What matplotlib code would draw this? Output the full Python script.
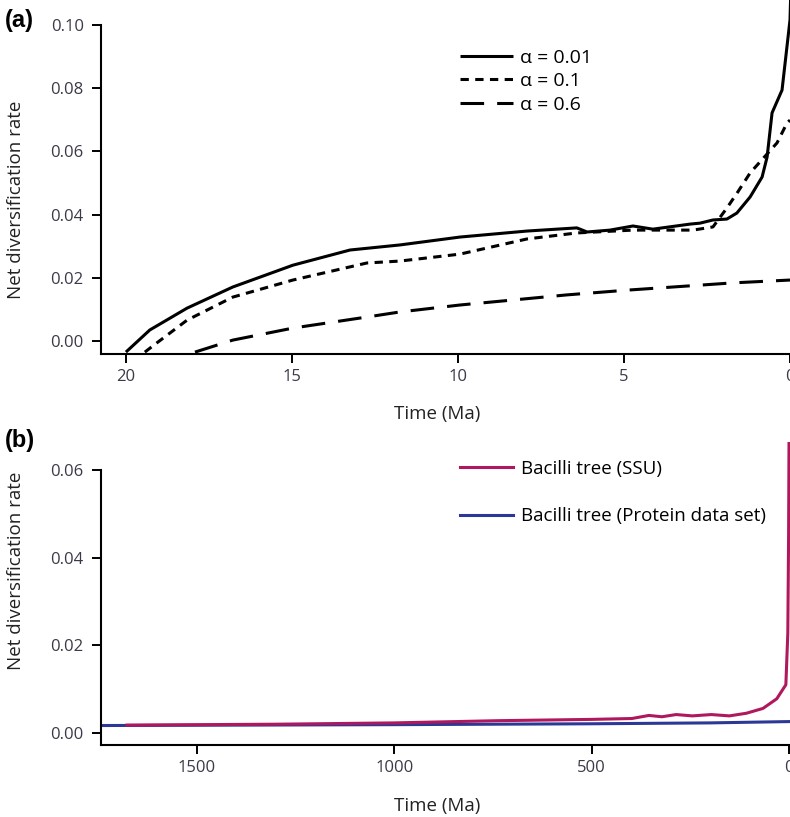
import matplotlib
matplotlib.use("Agg")
import matplotlib.pyplot as plt

plt.rcParams['font.family'] = ['Open Sans', 'DejaVu Sans']
plt.rcParams['lines.scale_dashes'] = False

# ---------------- Panel (a) data ----------------
t_a001 = [20.0, 19.28, 18.16, 16.78, 14.97, 13.25, 11.75, 9.94, 7.92, 6.42, 6.11, 5.42,
          4.73, 4.13, 3.01, 2.71, 2.32, 1.90, 1.60, 1.20, 0.84, 0.69, 0.54, 0.24, 0.0, -0.02]
v_a001 = [-0.0035, 0.0035, 0.0104, 0.0171, 0.0240, 0.0288, 0.0304, 0.0329, 0.0348, 0.0358,
          0.0345, 0.0351, 0.0364, 0.0354, 0.0370, 0.0373, 0.0383, 0.0386, 0.0405, 0.0456,
          0.0519, 0.0582, 0.0722, 0.0794, 0.1016, 0.109]

t_a01 = [19.43, 19.07, 18.16, 16.78, 14.97, 12.74, 11.75, 9.94, 7.92, 6.42, 4.73, 2.92,
         2.32, 1.90, 1.57, 1.20, 0.39, 0.09, 0.0]
v_a01 = [-0.0035, -0.0006, 0.0066, 0.0139, 0.0193, 0.0247, 0.0253, 0.0275, 0.0323, 0.0342,
         0.0351, 0.0351, 0.0361, 0.0421, 0.0472, 0.0532, 0.0627, 0.0690, 0.0699]

t_a06 = [17.92, 16.78, 14.97, 12.74, 11.75, 9.94, 6.72, 4.91, 1.72, 0.0]
v_a06 = [-0.0035, 0.0003, 0.0041, 0.0076, 0.0092, 0.0114, 0.0146, 0.0161, 0.0184, 0.0193]

labels_a = ['α = 0.01', 'α = 0.1', 'α = 0.6']
xticks_a = [20, 15, 10, 5, 0]
yticks_a = [0.00, 0.02, 0.04, 0.06, 0.08, 0.10]

# ---------------- Panel (b) data ----------------
t_ssu = [1677, 1300, 1000, 740, 500, 398, 355, 322, 286, 245, 197, 151, 108, 66, 31, 8, 3, 1, 0]
v_ssu = [0.0018, 0.0020, 0.0023, 0.0028, 0.0031, 0.0033, 0.0040, 0.0037, 0.0042, 0.0039,
         0.0042, 0.0039, 0.0045, 0.0056, 0.0078, 0.0110, 0.0228, 0.0456, 0.066]

t_prot = [1743, 1000, 500, 200, 0]
v_prot = [0.0017, 0.0019, 0.0021, 0.0023, 0.0026]

labels_b = ['Bacilli tree (SSU)', 'Bacilli tree (Protein data set)']
xticks_b = [1500, 1000, 500, 0]
yticks_b = [0.00, 0.02, 0.04, 0.06]

W, H = 790, 817
fig = plt.figure(figsize=(W / 100, H / 100), dpi=100)

def px_axes(left, top, right, bottom):
    return fig.add_axes([left / W, 1 - bottom / H, (right - left) / W, (bottom - top) / H])

tick_color = '#3a3a48'
lbl_color = '#222222'

def style(ax, ytop):
    for s in ['top', 'right']:
        ax.spines[s].set_visible(False)
    for s in ['left', 'bottom']:
        ax.spines[s].set_linewidth(1.5)
    ax.spines['left'].set_bounds(ax.get_ylim()[0], ytop)
    ax.tick_params(axis='both', direction='out', length=6.5, width=1.4,
                   labelsize=12, labelcolor=tick_color)
    ax.tick_params(axis='y', pad=6)
    ax.tick_params(axis='x', pad=4)

# Panel (a)
axa = px_axes(101, 0, 790, 354)
axa.plot(t_a001, v_a001, color='black', lw=2.2, label=labels_a[0], solid_capstyle='butt')
axa.plot(t_a01, v_a01, color='black', lw=2.2, dashes=(6, 4.6), label=labels_a[1])
axa.plot(t_a06, v_a06, color='black', lw=2.2, dashes=(17, 9.4), label=labels_a[2])
axa.set_xlim(20.75, 0.0)
axa.set_ylim(-0.0041, 0.1079)
axa.set_xticks(xticks_a)
axa.set_xticklabels([str(v) for v in xticks_a])
axa.set_yticks(yticks_a)
axa.set_yticklabels([f'{v:.2f}' for v in yticks_a])
style(axa, 0.10)
axa.set_xlabel('Time (Ma)', fontsize=13.5, color=lbl_color)
axa.xaxis.set_label_coords(0.488, -0.143)
axa.set_ylabel('Net diversification rate', fontsize=13.5, color=lbl_color)
axa.yaxis.set_label_coords(-0.110, 0.435)
axa.legend(loc='upper left', bbox_to_anchor=((460 - 101) / 689, 1 - 49 / 354),
           frameon=False, fontsize=14, handlelength=2.7, handletextpad=0.4,
           labelspacing=0.27, borderpad=0, borderaxespad=0)

# Panel (b)
axb = px_axes(101, 440, 790, 745)
axb.plot(t_prot, v_prot, color='#2c3896', lw=2.2, label=labels_b[1], zorder=2)
axb.plot(t_ssu, v_ssu, color='#b0185e', lw=2.2, label=labels_b[0], zorder=3, clip_on=False)
axb.set_xlim(1743, -2.5)
axb.set_ylim(-0.00274, 0.0668)
axb.set_xticks(xticks_b)
axb.set_xticklabels([str(v) for v in xticks_b])
axb.set_yticks(yticks_b)
axb.set_yticklabels([f'{v:.2f}' for v in yticks_b])
style(axb, 0.06)
axb.set_xlabel('Time (Ma)', fontsize=13.5, color=lbl_color)
axb.xaxis.set_label_coords(0.488, -0.172)
axb.set_ylabel('Net diversification rate', fontsize=13.5, color=lbl_color)
axb.yaxis.set_label_coords(-0.110, 0.570)
h, l = axb.get_legend_handles_labels()
axb.legend([h[1], h[0]], [l[1], l[0]], loc='upper left',
           bbox_to_anchor=((460 - 101) / 689, 1 - (460 - 440) / 305),
           frameon=False, fontsize=13.5, handlelength=2.8, handletextpad=0.45,
           labelspacing=1.55, borderpad=0, borderaxespad=0)

fig.text(5 / W, 1 - 21 / H, '(a)', fontsize=17, fontweight='bold',
         family=['Liberation Sans', 'DejaVu Sans'], va='center', ha='left')
fig.text(5 / W, 1 - 440 / H, '(b)', fontsize=17, fontweight='bold',
         family=['Liberation Sans', 'DejaVu Sans'], va='center', ha='left')

fig.savefig('out.png', dpi=100)
